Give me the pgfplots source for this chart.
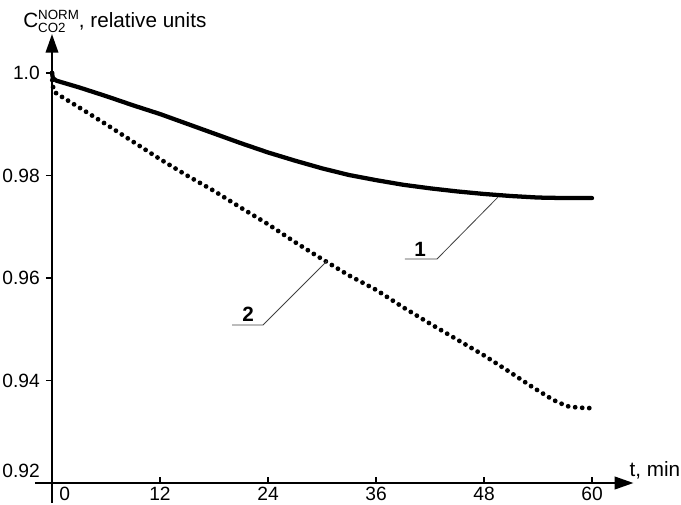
\documentclass[border=0pt]{standalone}
\usepackage{fontspec}
\setmainfont{Liberation Sans}
\usepackage{pgfplots}
\pgfplotsset{compat=1.18}
\usetikzlibrary{arrows.meta}
\newcommand\fs{\fontsize{15.5}{18}\selectfont}
\newcommand\tfs{\fontsize{14.4}{17}\selectfont}
\newcommand\smallfs{\fontsize{10}{10}\selectfont}
\begin{document}
\begin{tikzpicture}
\useasboundingbox (-39pt,-15.75pt) rectangle (471.75pt,362.25pt);
\begin{axis}[
  at={(0,0)}, anchor=south west,
  scale only axis, width=436.05pt, height=336.7pt,
  xmin=0, xmax=64.6, ymin=0.92, ymax=1.0076,
  axis lines=left,
  axis line style={line width=1.3pt},
  x axis line style={-{Triangle[length=14pt,width=9.5pt]}},
  y axis line style={-{Triangle[length=14pt,width=9.5pt]}},
  clip=false,
  xtick={0,12,24,36,48,60},
  xticklabels={\hspace*{19pt}0,12,24,36,48,60},
  ytick={0.92,0.94,0.96,0.98,1.0},
  yticklabels={\raisebox{9pt}{0.92},0.94,0.96,0.98,1.0},
  xtick align=inside, ytick align=outside,
  major tick length=4.5pt,
  tick style={line width=0.8pt, black},
  every tick label/.append style={font=\tfs},
  yticklabel style={text height=10.2pt, text depth=0pt, anchor=east, inner sep=2pt, xshift=-2.5pt},
  xticklabel style={anchor=north, inner sep=1pt, yshift=-1.8pt},
]
\addplot[black, line width=3.2pt, line cap=round, line join=round] coordinates {
(0,1.000) (0.1,0.9990) (0.5,0.9985) (3,0.9972) (6,0.9955) (9,0.9937) (12,0.9920)
(15,0.9901) (18,0.9882) (21,0.9863) (24,0.9845) (27,0.9829) (30,0.9814)
(33,0.9801) (36,0.9791) (39,0.9782) (42,0.9775) (45,0.9769) (48,0.9764)
(51,0.9760) (54,0.9757) (57,0.9756) (60,0.9756)
};
\addplot[black, line width=3.6pt, line cap=round, dash pattern=on 0pt off 5.3pt] coordinates {
(0,1.000) (0.05,0.998) (0.2,0.9965) (0.5,0.9960) (3,0.9933) (6,0.9900) (9,0.9866)
(12,0.9832) (15,0.9800) (18,0.9770) (21,0.9737) (24,0.9705) (27,0.9670)
(30,0.9637) (33,0.9605) (36,0.9577) (39,0.9543) (42,0.9511) (45,0.9480)
(48,0.9449) (51,0.9415) (53.4,0.9387) (55.7,0.9362) (57.2,0.9350)
(58.5,0.9347) (60,0.9346)
};
\draw[line width=1.3pt] (axis cs:-1.89,0.92) -- (axis cs:0,0.92);
\draw[line width=1.3pt] (axis cs:0,0.92) -- (axis cs:0,0.9161);
\draw[line width=0.6pt, black!75] (axis cs:49.56,0.9758) -- (axis cs:42.78,0.96371) -- (axis cs:39.22,0.96371);
\node[anchor=base, font=\fs\bfseries, inner sep=0pt] at (axis cs:40.89,0.96429) {1};
\draw[line width=0.6pt, black!75] (axis cs:30.56,0.96332) -- (axis cs:23.44,0.95083) -- (axis cs:20.0,0.95083);
\node[anchor=base, font=\fs\bfseries, inner sep=0pt] at (axis cs:21.78,0.95161) {2};
\end{axis}
\node[anchor=base west, inner sep=0pt, font=\fs] at (-21.75pt,341.25pt)
  {C\rlap{\raisebox{-3.75pt}{\smallfs CO2}}\raisebox{6.5pt}{\smallfs NORM}, relative units};
\node[anchor=base west, inner sep=0pt, font=\fs] at (433pt,5.25pt) {t, min};
\end{tikzpicture}
\end{document}
